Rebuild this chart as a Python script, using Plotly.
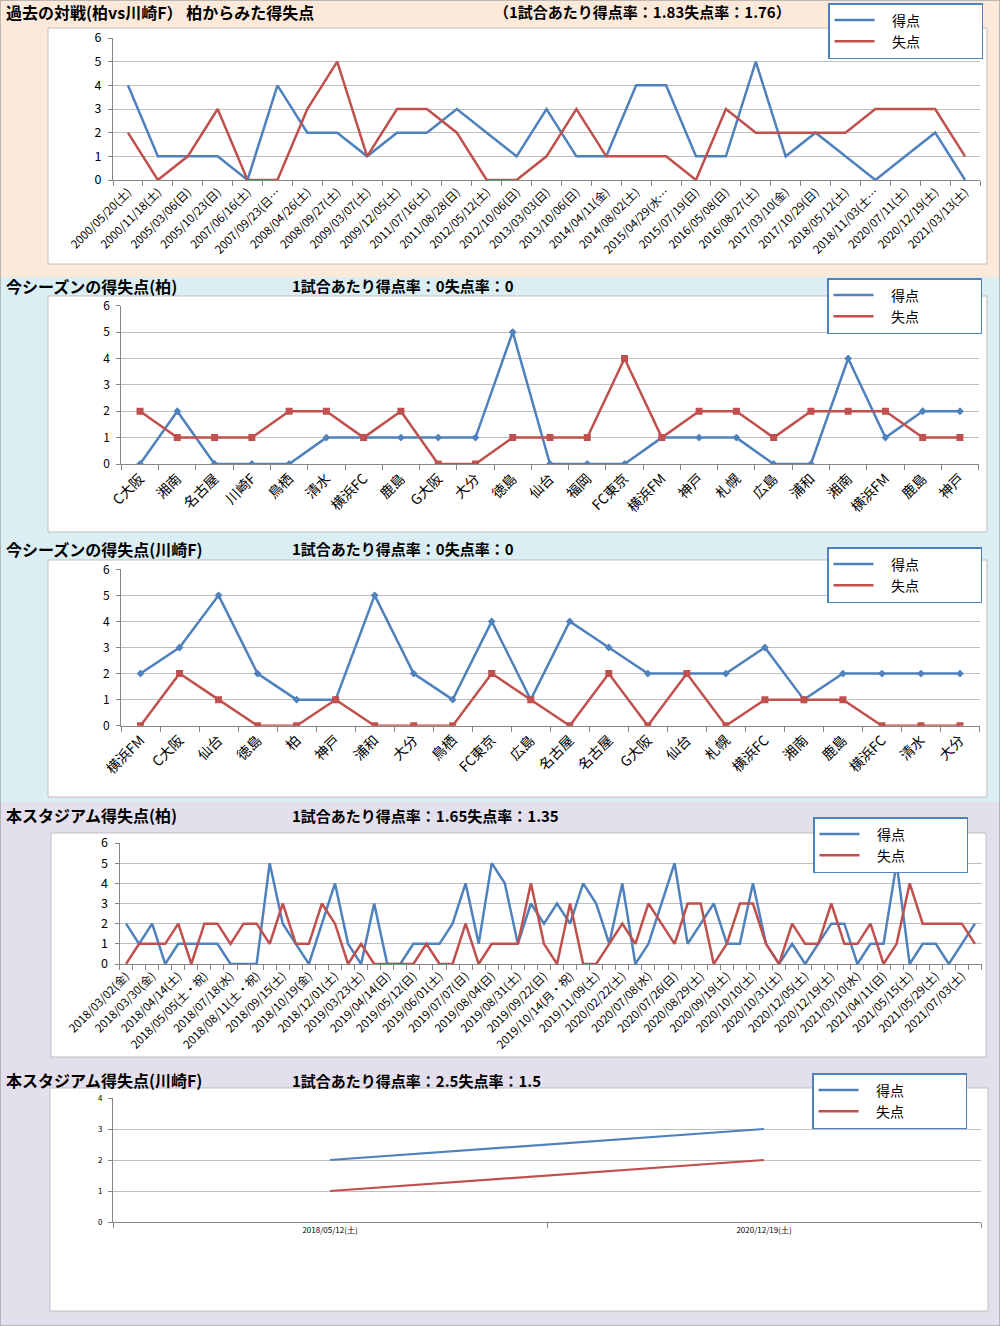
import plotly.graph_objects as go

W, H = 1000, 1326
FONT = "Noto Sans CJK JP"
BLUE = "#4F81BD"
RED = "#C0504D"
AX = "#868686"
GRID = "#BFBFBF"

# ---------------- data ----------------
h2h_dates = ["2000/05/20(土)", "2000/11/18(土)", "2005/03/06(日)", "2005/10/23(日)", "2007/06/16(土)",
             "2007/09/23(日…", "2008/04/26(土)", "2008/09/27(土)", "2009/03/07(土)", "2009/12/05(土)",
             "2011/07/16(土)", "2011/08/28(日)", "2012/05/12(土)", "2012/10/06(日)", "2013/03/03(日)",
             "2013/10/06(日)", "2014/04/11(金)", "2014/08/02(土)", "2015/04/29(水…", "2015/07/19(日)",
             "2016/05/08(日)", "2016/08/27(土)", "2017/03/10(金)", "2017/10/29(日)", "2018/05/12(土)",
             "2018/11/03(土…", "2020/07/11(土)", "2020/12/19(土)", "2021/03/13(土)"]
h2h_for = [4, 1, 1, 1, 0, 4, 2, 2, 1, 2, 2, 3, 2, 1, 3, 1, 1, 4, 4, 1, 1, 5, 1, 2, 1, 0, 1, 2, 0]
h2h_against = [2, 0, 1, 3, 0, 0, 3, 5, 1, 3, 3, 2, 0, 0, 1, 3, 1, 1, 1, 0, 3, 2, 2, 2, 2, 3, 3, 3, 1]

kashiwa_opps = ["C大阪", "湘南", "名古屋", "川崎F", "鳥栖", "清水", "横浜FC", "鹿島", "G大阪", "大分", "徳島",
                "仙台", "福岡", "FC東京", "横浜FM", "神戸", "札幌", "広島", "浦和", "湘南", "横浜FM", "鹿島", "神戸"]
kashiwa_for = [0, 2, 0, 0, 0, 1, 1, 1, 1, 1, 5, 0, 0, 0, 1, 1, 1, 0, 0, 4, 1, 2, 2]
kashiwa_against = [2, 1, 1, 1, 2, 2, 1, 2, 0, 0, 1, 1, 1, 4, 1, 2, 2, 1, 2, 2, 2, 1, 1]

kawasaki_opps = ["横浜FM", "C大阪", "仙台", "徳島", "柏", "神戸", "浦和", "大分", "鳥栖", "FC東京", "広島",
                 "名古屋", "名古屋", "G大阪", "仙台", "札幌", "横浜FC", "湘南", "鹿島", "横浜FC", "清水", "大分"]
kawasaki_for = [2, 3, 5, 2, 1, 1, 5, 2, 1, 4, 1, 4, 3, 2, 2, 2, 3, 1, 2, 2, 2, 2]
kawasaki_against = [0, 2, 1, 0, 0, 1, 0, 0, 0, 2, 1, 0, 2, 0, 2, 0, 1, 1, 1, 0, 0, 0]

# stadium (Kashiwa): 66 matches, every other date label shown
stadium_labels = ["2018/03/02(金)", "2018/03/30(金)", "2018/04/14(土)", "2018/05/05(土・祝)", "2018/07/18(水)",
                  "2018/08/11(土・祝)", "2018/09/15(土)", "2018/10/19(金)", "2018/12/01(土)", "2019/03/23(土)",
                  "2019/04/14(日)", "2019/05/12(日)", "2019/06/01(土)", "2019/07/07(日)", "2019/08/04(日)",
                  "2019/08/31(土)", "2019/09/22(日)", "2019/10/14(月・祝)", "2019/11/09(土)", "2020/02/22(土)",
                  "2020/07/08(水)", "2020/07/26(日)", "2020/08/29(土)", "2020/09/19(土)", "2020/10/10(土)",
                  "2020/10/31(土)", "2020/12/05(土)", "2020/12/19(土)", "2021/03/10(水)", "2021/04/11(日)",
                  "2021/05/15(土)", "2021/05/29(土)", "2021/07/03(土)"]
stadium_for = [2, 1, 2, 0, 1, 1, 1, 1, 0, 0, 0, 5, 2, 1, 0, 2, 4, 1, 0, 3, 0, 0, 1, 1, 1, 2, 4, 1, 5,
               4, 1, 3, 2, 3, 2, 4, 3, 1, 4, 0, 1, 3, 5, 1, 2, 3, 1, 1, 4, 1, 0, 1, 0, 1, 2, 2, 0, 1, 1,
               5, 0, 1, 1, 0, 1, 2]
stadium_against = [0, 1, 1, 1, 2, 0, 2, 2, 1, 2, 2, 1, 3, 1, 1, 3, 2, 0, 1, 0, 0, 0, 0, 1, 0, 0, 2, 0, 1,
                   1, 1, 4, 1, 0, 3, 0, 0, 1, 2, 1, 3, 2, 1, 3, 3, 0, 1, 3, 3, 1, 0, 2, 1, 1, 3, 1, 1, 2, 0,
                   1, 4, 2, 2, 2, 2, 1]

kawa_stadium_dates = ["2018/05/12(土)", "2020/12/19(土)"]
kawa_stadium_for = [2, 3]
kawa_stadium_against = [1, 2]

series_names = ["得点", "失点"]

titles = [
    ("過去の対戦(柏vs川崎F） 柏からみた得失点", "（1試合あたり得点率：1.83失点率：1.76）", 12, 492),
    ("今シーズンの得失点(柏)", "1試合あたり得点率：0失点率：0", 285.5, 290),
    ("今シーズンの得失点(川崎F)", "1試合あたり得点率：0失点率：0", 548.5, 290),
    ("本スタジアム得失点(柏)", "1試合あたり得点率：1.65失点率：1.35", 815, 290),
    ("本スタジアム得失点(川崎F)", "1試合あたり得点率：2.5失点率：1.5", 1080, 290),
]

# ---------------- layout helpers (pixel -> paper) ----------------
def px(x):
    return x / W


def py(y):
    return 1 - y / H


panels = [
    dict(labels=h2h_dates, step=1, f=h2h_for, a=h2h_against, xd=(113, 980), yd=(38, 180), ymax=6,
         angle=-45, xfont=11.5, yfont=12.5, markers=False, width=2.5, leg=(828, 3)),
    dict(labels=kashiwa_opps, step=1, f=kashiwa_for, a=kashiwa_against, xd=(121.4, 978.6), yd=(305.7, 464),
         ymax=6, angle=-45, xfont=14, yfont=12, markers=True, width=2.5, leg=(827, 278)),
    dict(labels=kawasaki_opps, step=1, f=kawasaki_for, a=kawasaki_against, xd=(121, 979.5), yd=(569.3, 725.7),
         ymax=6, angle=-45, xfont=14, yfont=12, markers=True, width=2.5, leg=(827, 547)),
    dict(labels=stadium_labels, step=2, f=stadium_for, a=stadium_against, xd=(119.5, 981.5), yd=(843, 964),
         ymax=6, angle=-45, xfont=11.5, yfont=12.5, markers=False, width=2.5, leg=(813, 817)),
    dict(labels=kawa_stadium_dates, step=1, f=kawa_stadium_for, a=kawa_stadium_against, xd=(113, 981),
         yd=(1098, 1222), ymax=4, angle=0, xfont=8, yfont=8, markers=False, width=2.2, leg=(812, 1073)),
]

fig = go.Figure()
layout = {}

for i, p in enumerate(panels, start=1):
    n = len(p["f"])
    xs = list(range(n))
    sfx = "" if i == 1 else str(i)
    legname = "legend" if i == 1 else f"legend{i}"
    for name, vals, color, sym, msize in [
        (series_names[0], p["f"], BLUE, "diamond", 6),
        (series_names[1], p["a"], RED, "square", 7),
    ]:
        fig.add_trace(go.Scatter(
            x=xs, y=vals, name=name, showlegend=False,
            mode="lines+markers" if p["markers"] else "lines",
            line=dict(color=color, width=p["width"]),
            marker=dict(symbol=sym, size=msize, color=color),
            xaxis="x" + sfx, yaxis="y" + sfx, hoverinfo="skip",
        ))
        # legend entry (line sample only, as in the original)
        fig.add_trace(go.Scatter(
            x=[None], y=[None], name="\u00a0\u00a0\u00a0\u00a0" + name + "\u3000\u3000\u3000\u3000",
            mode="lines", line=dict(color=color, width=2.5),
            xaxis="x" + sfx, yaxis="y" + sfx, legend=legname, hoverinfo="skip",
        ))
    tickvals = list(range(0, n, p["step"]))[:len(p["labels"])]
    layout["xaxis" + sfx] = dict(
        domain=[px(p["xd"][0]), px(p["xd"][1])], anchor="y" + sfx,
        range=[-0.5, n - 0.5], tickmode="array", tickvals=tickvals, ticktext=p["labels"],
        tickangle=p["angle"], showline=True, linecolor=AX, linewidth=1, ticks="",
        minor=dict(ticks="outside", tickmode="array", tickvals=[k - 0.5 for k in range(n + 1)],
                   ticklen=5, tickcolor=AX, showgrid=False),
        showgrid=False, zeroline=False, tickfont=dict(family=FONT, size=p["xfont"], color="#000"),
        fixedrange=True, automargin=False,
    )
    layout["yaxis" + sfx] = dict(
        domain=[py(p["yd"][1]), py(p["yd"][0])], anchor="x" + sfx,
        range=[0, p["ymax"]], dtick=1, showline=True, linecolor=AX, linewidth=1,
        ticks="outside", ticklen=4, tickcolor=AX, showgrid=True, gridcolor=GRID, gridwidth=1,
        zeroline=False, tickfont=dict(family=FONT, size=p["yfont"], color="#000"), fixedrange=True,
        automargin=False, ticklabelstandoff=4,
    )
    layout[legname] = dict(
        x=px(p["leg"][0]), y=py(p["leg"][1]), xanchor="left", yanchor="top",
        bgcolor="white", bordercolor=BLUE, borderwidth=1.5, itemwidth=40,
        font=dict(family=FONT, size=14, color="#000"), tracegroupgap=0,
    )

shapes = []
# coloured section backgrounds
for (y0, y1, col) in [(0, 277, "#FDE9D9"), (277, 802, "#DAEEF3"), (802, 1326, "#E4DFEC")]:
    shapes.append(dict(type="rect", xref="paper", yref="paper", x0=0, x1=1, y0=py(y1), y1=py(y0),
                       fillcolor=col, line=dict(width=0), layer="below"))
# white chart boxes
for (x0, y0, x1, y1) in [(48, 28, 987, 264), (48, 296, 987, 532), (48, 560, 987, 797),
                         (51, 833, 986, 1057), (50, 1088, 988, 1311)]:
    shapes.append(dict(type="rect", xref="paper", yref="paper", x0=px(x0), x1=px(x1), y0=py(y1), y1=py(y0),
                       fillcolor="white", line=dict(color="#BFBFBF", width=1), layer="below"))
# outer frame
shapes.append(dict(type="rect", xref="paper", yref="paper", x0=0, x1=1, y0=0, y1=1,
                   line=dict(color="#A6A6A6", width=1.5), fillcolor="rgba(0,0,0,0)", layer="below"))

annotations = []
for (t1, t2, yc, x2) in titles:
    annotations.append(dict(text="<b>" + t1 + "</b>", x=px(4), y=py(yc), xref="paper", yref="paper",
                            xanchor="left", yanchor="middle", showarrow=False,
                            font=dict(family=FONT, size=16, color="#000")))
    annotations.append(dict(text="<b>" + t2 + "</b>", x=px(x2), y=py(yc), xref="paper", yref="paper",
                            xanchor="left", yanchor="middle", showarrow=False,
                            font=dict(family=FONT, size=15, color="#000")))

fig.update_layout(
    width=W, height=H, margin=dict(l=0, r=0, t=0, b=0, pad=0, autoexpand=False),
    paper_bgcolor="white", plot_bgcolor="rgba(0,0,0,0)",
    shapes=shapes, annotations=annotations, showlegend=True,
    font=dict(family=FONT),
    **layout,
)

fig.write_html("out.html", config={"displayModeBar": False},
               post_script="document.body.style.margin='0';document.body.style.padding='0';")
